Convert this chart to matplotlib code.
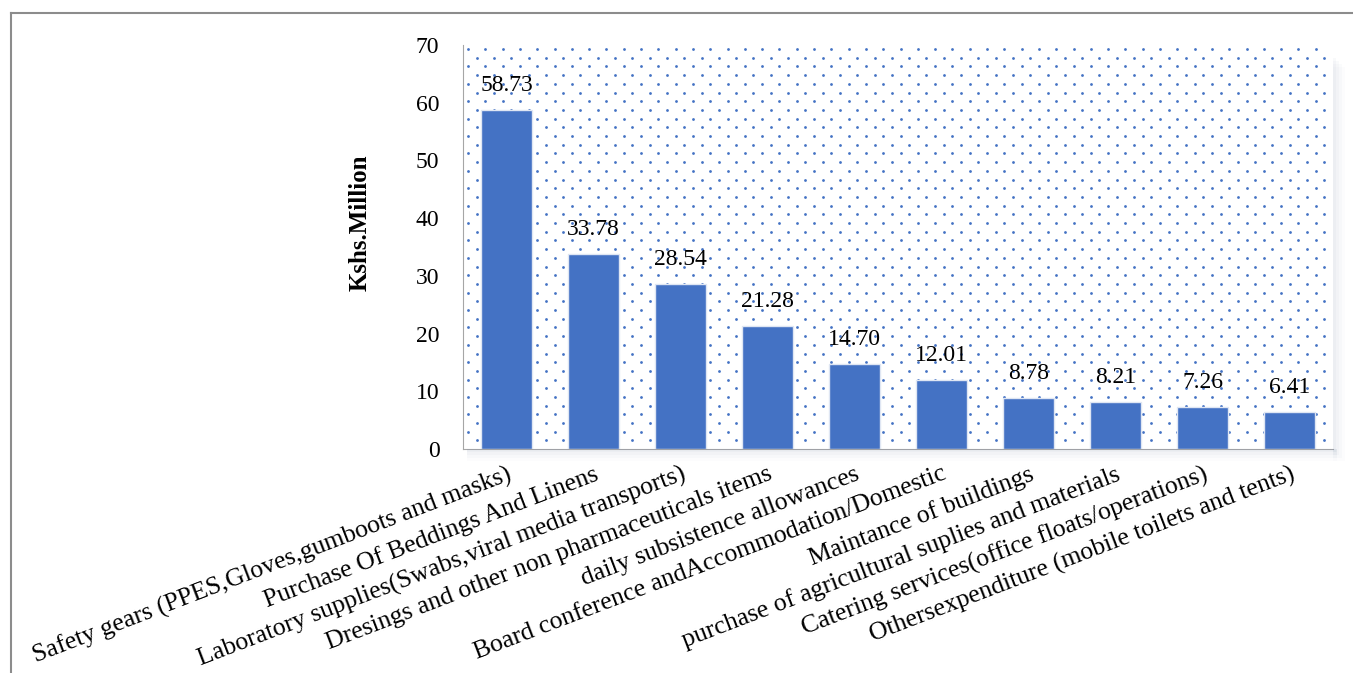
import numpy as np
import matplotlib.pyplot as plt
from matplotlib.patches import Rectangle
from matplotlib.lines import Line2D

categories = [
    'Safety gears (PPES,Gloves,gumboots and masks)',
    'Purchase Of Beddings And Linens',
    'Laboratory supplies(Swabs,viral media transports)',
    'Dresings and other non pharmaceuticals items',
    'daily subsistence allowances',
    'Board conference andAccommodation/Domestic',
    'Maintance of buildings',
    'purchase of agricultural suplies and materials',
    'Catering services(office floats/operations)',
    'Othersexpenditure (mobile toilets and tents)',
]
values = [58.73, 33.78, 28.54, 21.28, 14.70, 12.01, 8.78, 8.21, 7.26, 6.41]
yticks = [0, 10, 20, 30, 40, 50, 60, 70]

plt.rcParams['font.family'] = 'Liberation Serif'
blue = '#4472C4'

W, H = 1353, 673
fig = plt.figure(figsize=(W / 100, H / 100), dpi=100)
left, bottom, right, top = 463 / W, 1 - 449 / H, 1333 / W, 1 - 45 / H
ax = fig.add_axes([left, bottom, right - left, top - bottom])

# frame around the picture
fig.add_artist(Line2D([11 / W, 1], [1 - 12.5 / H] * 2, color='#8c8c8c', lw=1.5))
fig.add_artist(Line2D([11 / W] * 2, [0, 1 - 12.5 / H], color='#8c8c8c', lw=1.5))

# soft shadow under the plot area
for i, a in enumerate([0.05, 0.04, 0.03, 0.02]):
    d = (i + 1) * 3
    fig.add_artist(Rectangle((left + 4 / W, bottom - d / H), right - left, d / H,
                             color='#7f8fb0', alpha=a, lw=0))
    fig.add_artist(Rectangle((right, bottom - d / H), d / W, top - bottom - 10 / H,
                             color='#7f8fb0', alpha=a, lw=0))

# dotted background pattern
axw, axh = right * W - left * W, top * H - bottom * H
sx, sy = 17.3, 8.7
pts = []
for r, yy in enumerate(np.arange(4, axh, sy)):
    off = 0 if r % 2 == 0 else sx / 2
    for xx in np.arange(5 + off, axw, sx):
        pts.append((xx / axw, 1 - yy / axh))
pts = np.array(pts)
ax.scatter(pts[:, 0], pts[:, 1], s=4, color=blue, lw=0, transform=ax.transAxes,
           zorder=0, clip_on=True)

x = np.arange(len(values))
bars = ax.bar(x, values, width=0.58, color=blue, edgecolor='#dfe6f3', linewidth=1, zorder=2)
for b, v in zip(bars, values):
    ax.text(b.get_x() + b.get_width() / 2, v + 2.4, f'{v:.2f}', ha='center', va='bottom',
            fontsize=17, zorder=3)

ax.set_xlim(-0.5, len(values) - 0.5)
ax.set_ylim(0, 70)
ax.set_yticks(yticks)
ax.set_yticklabels([str(t) for t in yticks], fontsize=17)
ax.set_xticks(x)
ax.set_xticklabels(categories, rotation=21, ha='right', rotation_mode='anchor', fontsize=18.5)
ax.tick_params(axis='y', length=0, pad=17)
ax.tick_params(axis='x', length=0, pad=10)
ax.set_ylabel('Kshs.Million', fontsize=18, fontweight='bold')
ax.yaxis.set_label_coords(-0.105, 0.56)

for s in ['top', 'right']:
    ax.spines[s].set_visible(False)
ax.spines['left'].set_color('#a6a6a6')
ax.spines['bottom'].set_color('#a6a6a6')

fig.savefig('out.png', dpi=100)
